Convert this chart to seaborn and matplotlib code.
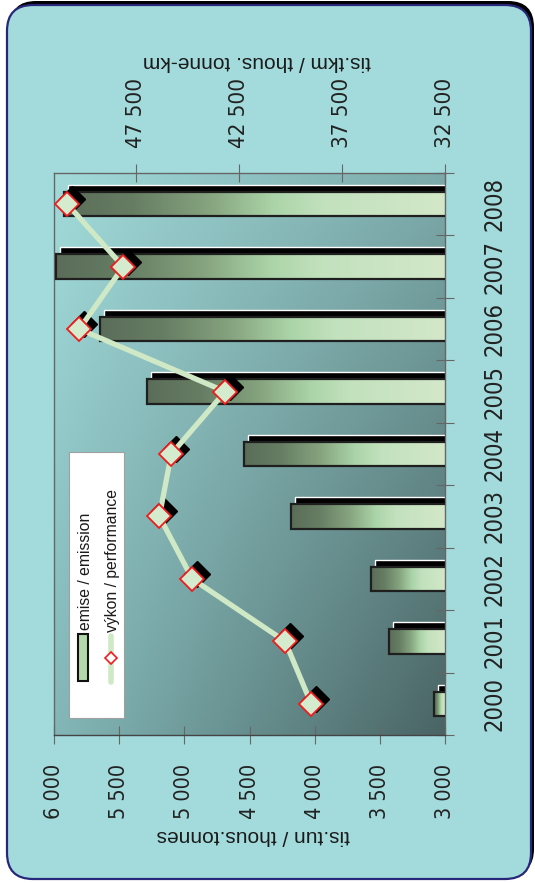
import numpy as np
import pandas as pd
import matplotlib
matplotlib.use("Agg")
import matplotlib.pyplot as plt
import matplotlib.transforms as mtransforms
from matplotlib import font_manager
from matplotlib.patches import FancyBboxPatch, Rectangle
from matplotlib.lines import Line2D
from matplotlib.colors import LinearSegmentedColormap, to_rgb
import seaborn as sns

# data
roky = [2000, 2001, 2002, 2003, 2004, 2005, 2006, 2007, 2008]
emise = [3085, 3430, 3570, 4180, 4545, 5285, 5650, 5985, 5925]          # tis.tun
vykon = [39000, 40270, 44780, 46380, 45800, 43180, 50270, 48130, 50850]  # tis.tkm
ticks_emise = [3000, 3500, 4000, 4500, 5000, 5500, 6000]
ticks_vykon = [32500, 37500, 42500, 47500]
popis_emise = "tis.tun / thous.tonnes"
popis_vykon = "tis.tkm / thous. tonne-km"
legenda = ["emise / emission", "výkon / performance"]

df = pd.DataFrame({"rok": roky, "emise": emise, "vykon": vykon})

sns.set_theme(style="white")
plt.rcParams["font.family"] = ["Liberation Sans", "DejaVu Sans"]

# look for a narrow font for the numbers, if there is one
uzky_font = None
for f in font_manager.fontManager.ttflist:
    jmeno = f.name.lower()
    if ("narrow" in jmeno or "condensed" in jmeno or f.stretch in ("condensed", "semi-condensed")) \
            and f.style == "normal" and f.weight in (400, "normal", "regular"):
        uzky_font = f
        break
if uzky_font is not None:
    uzky = font_manager.FontProperties(fname=uzky_font.fname)
    vel = 1.0
else:
    uzky = font_manager.FontProperties(family=["Liberation Sans", "DejaVu Sans"])
    vel = 0.9
print("narrow font:", uzky_font.fname if uzky_font else None)

W, H = 535, 883
fig = plt.figure(figsize=(W / 100, H / 100), dpi=100)
fig.patch.set_facecolor("white")

def fx(x):
    return x / W

def fy(y):
    return 1 - y / H

# rounded frame + shadow (pixel coords)
ident = mtransforms.IdentityTransform()
stin = FancyBboxPatch((10, 8), 524, 874, boxstyle="round,pad=0,rounding_size=26",
                      transform=ident, facecolor="black", edgecolor="none", zorder=-3)
ram = FancyBboxPatch((7, 4), 524, 874, boxstyle="round,pad=0,rounding_size=26",
                     transform=ident, facecolor="#a3dbdc", edgecolor="#27287a",
                     linewidth=1.6, zorder=-2)
fig.patches.extend([stin, ram])

rect = [fx(54), fy(735), (445 - 54) / W, (735 - 173) / H]

# plot area gradient
bg = fig.add_axes(rect, zorder=0)
u = np.linspace(0, 1, 200)
uu, vv = np.meshgrid(u, u)  # vv: 0 top -> 1 bottom
tl, tr = np.array(to_rgb("#a2dada")), np.array(to_rgb("#7caaaa"))
bl, br = np.array(to_rgb("#83b7b7")), np.array(to_rgb("#4a6464"))
img = ((1 - uu)[..., None] * (1 - vv)[..., None] * tl + uu[..., None] * (1 - vv)[..., None] * tr
       + (1 - uu)[..., None] * vv[..., None] * bl + uu[..., None] * vv[..., None] * br)
bg.imshow(img, extent=[0, 1, 0, 1], aspect="auto", origin="upper")
bg.axis("off")

ax = fig.add_axes(rect, zorder=1)
ax.patch.set_alpha(0)

# bar shadows
sns.barplot(data=df, x="emise", y="rok", orient="y", color="black", saturation=1,
            width=0.39, ax=ax, errorbar=None)
posun = mtransforms.ScaledTranslation(4 / 100, 7 / 100, fig.dpi_scale_trans)
n_stin = len(ax.patches)
for p in ax.patches:
    p.set_transform(ax.transData + posun)
    p.set_zorder(1.5)

# main bars
sns.barplot(data=df, x="emise", y="rok", orient="y", color="#888888", saturation=1,
            width=0.39, ax=ax, errorbar=None)
cmap_bar = LinearSegmentedColormap.from_list(
    "bar", [(0, "#5b6d59"), (0.18, "#667d63"), (0.38, "#86a47f"), (0.55, "#abd4a8"),
            (0.68, "#c2e1bd"), (1, "#d3e8c9")])
grad = np.linspace(0, 1, 256)[None, :]
for p in ax.patches[n_stin:]:
    p.set_facecolor("none")
    p.set_edgecolor("#1f1f1f")
    p.set_linewidth(1.6)
    p.set_zorder(3)
    y0, h, val = p.get_y(), p.get_height(), p.get_width()
    ax.imshow(grad, cmap=cmap_bar, extent=(val, 3000, y0 + h, y0), aspect="auto",
              zorder=2.5, interpolation="bicubic")

ax.set_xlim(6000, 3000)
ax.set_ylim(-0.5, len(roky) - 0.5)
ax.set_xlabel("")
ax.set_ylabel("")
ax.set_xticks(ticks_emise)
ax.set_xticklabels([f"{v:,}".replace(",", " ") for v in ticks_emise], rotation=90,
                   fontproperties=uzky, fontsize=15.5 * vel, color="#222222")
ax.tick_params(axis="x", bottom=True, direction="inout", length=13, width=0.8,
               color="#666666", pad=14.5)
ax.yaxis.tick_right()
ax.set_yticks(range(len(roky)))
ax.set_yticklabels([str(r) for r in roky], rotation=90, va="center",
                   fontproperties=uzky, fontsize=17 * vel, color="#222222")
ax.set_yticks(np.arange(-0.5, len(roky), 1), minor=True)
ax.tick_params(axis="y", which="major", right=True, length=0, pad=27)
ax.tick_params(axis="y", which="minor", right=True, direction="inout", length=13,
               width=0.8, color="#666666")
for s in ax.spines.values():
    s.set_color("#666666")
    s.set_linewidth(1)
ax.spines["bottom"].set_color("#444444")

# performance line on top axis
ax2 = ax.twiny()
ax2.patch.set_alpha(0)
poz = np.arange(len(roky))
posun_m = mtransforms.ScaledTranslation(5 / 100, 5 / 100, fig.dpi_scale_trans)
ax2.plot(vykon, poz, linestyle="none", marker="D", markersize=13, color="black",
         transform=ax2.transData + posun_m, zorder=1)
sns.lineplot(x=vykon, y=poz, orient="y", sort=False, errorbar=None, ax=ax2,
             color="#cfe8c5", linewidth=3.8, marker="D", markersize=12.5,
             markerfacecolor="#d5ebcd", markeredgecolor="#ee1c1c",
             markeredgewidth=1.3, zorder=2)
ax2.set_xlim(51500, 32500)
ax2.set_ylim(-0.5, len(roky) - 0.5)
ax2.set_xticks(ticks_vykon)
ax2.set_xticklabels([f"{v:,}".replace(",", " ") for v in ticks_vykon], rotation=90,
                    fontproperties=uzky, fontsize=16 * vel, color="#222222")
ax2.tick_params(axis="x", top=True, direction="inout", length=13, width=0.8,
                color="#666666", pad=11.5)
ax2.set_xlabel("")
ax2.set_ylabel("")
for s in ax2.spines.values():
    s.set_visible(False)

# axis titles (upside down as in the picture)
fig.text(fx(253), fy(835), popis_emise, rotation=180, ha="center", va="center",
         fontsize=15, color="#1a1a1a")
fig.text(fx(257), fy(62), popis_vykon, rotation=180, ha="center", va="center",
         fontsize=15, color="#1a1a1a")

# legend drawn by hand (rotated)
fig.patches.append(Rectangle((fx(69), fy(718)), 55 / W, 266 / H, transform=fig.transFigure,
                             facecolor="white", edgecolor="#a0a0a0", linewidth=0.8, zorder=5))
fig.patches.append(Rectangle((fx(78), fy(681)), 10 / W, 47 / H, transform=fig.transFigure,
                             facecolor="#b3d8ab", edgecolor="#111111", linewidth=1.5, zorder=6))
fig.lines.append(Line2D([fx(111), fx(111)], [fy(636), fy(682)], transform=fig.transFigure,
                        color="#cfe8c5", linewidth=4, solid_capstyle="round", zorder=6))
fig.lines.append(Line2D([fx(111)], [fy(658)], transform=fig.transFigure, marker="D",
                        markersize=6, markerfacecolor="white", markeredgecolor="#ee1c1c",
                        markeredgewidth=1.2, zorder=7))
fig.text(fx(85), fy(630), legenda[0], rotation=90, ha="center", va="bottom",
         fontsize=11.3, color="#1a1a1a", zorder=7)
fig.text(fx(112), fy(632), legenda[1], rotation=90, ha="center", va="bottom",
         fontsize=11.3, color="#1a1a1a", zorder=7)

fig.savefig("out.png", dpi=100)
